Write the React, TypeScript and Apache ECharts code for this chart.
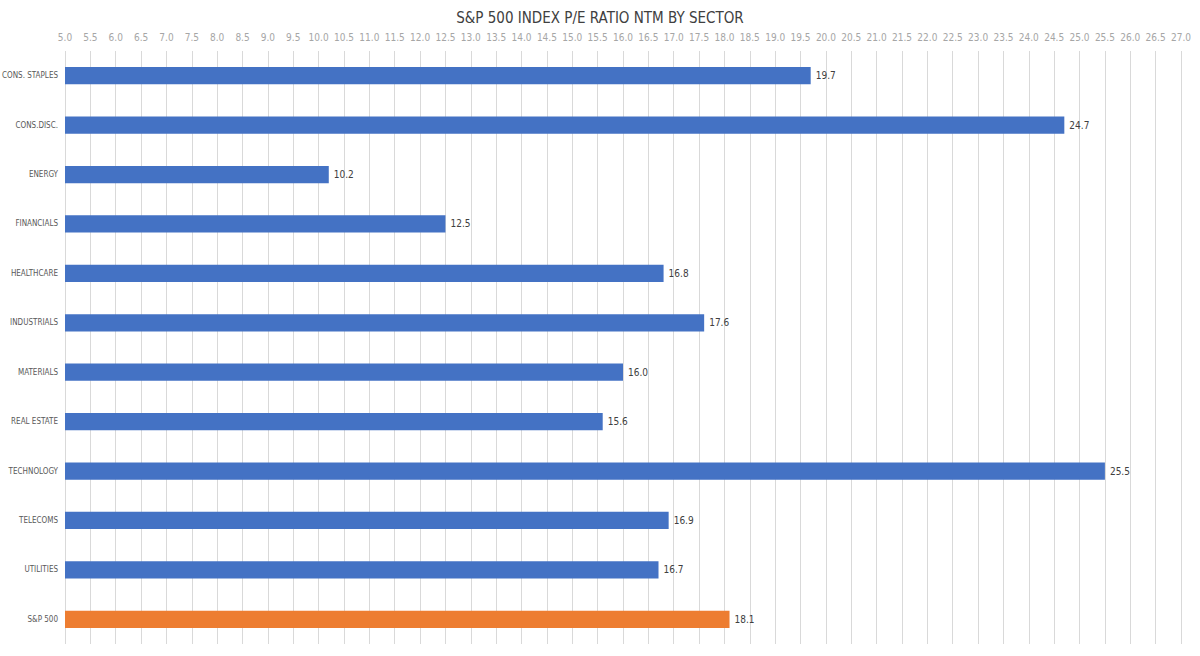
import React, { useEffect, useRef } from "react";
import * as echarts from "echarts";

const categories = [
  "CONS. STAPLES",
  "CONS.DISC.",
  "ENERGY",
  "FINANCIALS",
  "HEALTHCARE",
  "INDUSTRIALS",
  "MATERIALS",
  "REAL ESTATE",
  "TECHNOLOGY",
  "TELECOMS",
  "UTILITIES",
  "S&P 500",
];
const values = [19.7, 24.7, 10.2, 12.5, 16.8, 17.6, 16.0, 15.6, 25.5, 16.9, 16.7, 18.1];
const highlight = "S&P 500";
const titleText = "S&P 500 INDEX P/E RATIO NTM BY SECTOR";

const FONT = "'DejaVu Sans Condensed', 'Noto Sans', sans-serif";

export default function App() {
  const ref = useRef<HTMLDivElement>(null);
  useEffect(() => {
    if (!ref.current) return;
    const chart = echarts.init(ref.current, undefined, { renderer: "svg" });
    chart.setOption({
      animation: false,
      title: {
        text: titleText,
        left: "center",
        top: 5,
        textStyle: { fontFamily: FONT, fontSize: 15, fontWeight: "normal", color: "#404040" },
      },
      grid: {
        left: 65,
        right: 19,
        top: 51,
        bottom: 12,
        containLabel: false,
        outerBoundsMode: "none",
      },
      xAxis: {
        type: "value",
        position: "top",
        min: 5,
        max: 27,
        interval: 0.5,
        axisLine: { show: false },
        axisTick: { show: false },
        axisLabel: {
          fontFamily: FONT,
          fontSize: 10,
          color: "#a6a6a6",
          margin: 9,
          formatter: (v: number) => v.toFixed(1),
        },
        splitLine: { show: true, lineStyle: { color: "#d9d9d9", width: 1 } },
      },
      yAxis: {
        type: "category",
        data: categories,
        inverse: true,
        axisLine: { show: false },
        axisTick: { show: false },
        axisLabel: { fontFamily: FONT, fontSize: 8, color: "#595959", margin: 7 },
        splitLine: { show: false },
      },
      series: [
        {
          type: "bar",
          data: values.map((v, i) => ({
            value: v,
            itemStyle: { color: categories[i] === highlight ? "#ED7D31" : "#4472C4" },
          })),
          barWidth: "35%",
          label: {
            show: true,
            position: "right",
            distance: 5,
            fontFamily: FONT,
            fontSize: 10,
            color: "#404040",
            formatter: (p: any) => Number(p.value).toFixed(1),
          },
        },
      ],
    });
    return () => chart.dispose();
  }, []);
  return (
    <div
      ref={ref}
      style={{ position: "fixed", left: 0, top: 0, width: 1200, height: 656, background: "#fff" }}
    />
  );
}
